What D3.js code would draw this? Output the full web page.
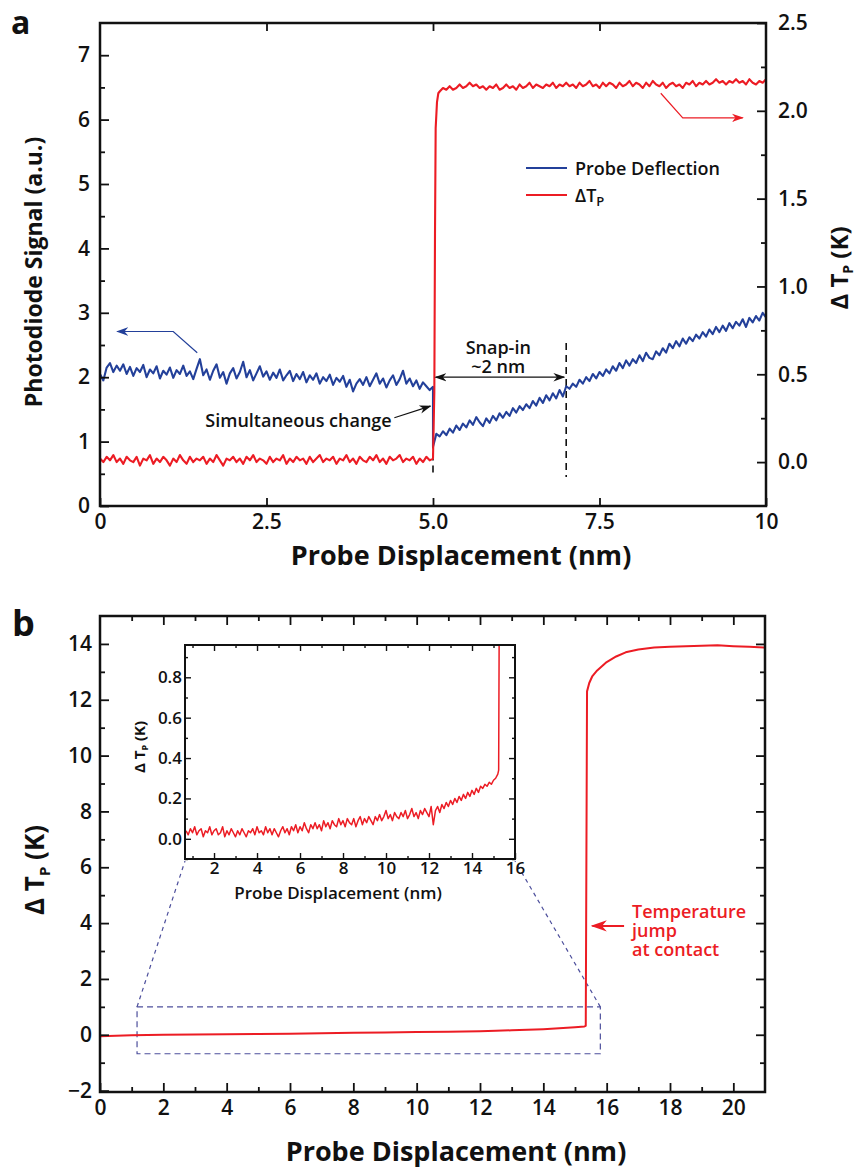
<!DOCTYPE html>
<html>
<head>
<meta charset="utf-8">
<script src="https://cdn.jsdelivr.net/npm/d3@7"></script>
<style>
  body { margin: 0; background: white; }
  svg text { font-family: "Open Sans", sans-serif; font-weight: 600; fill: #111; }
  svg text.title { font-weight: 700; }
</style>
</head>
<body>
<div id="chart"></div>
<script>
// ---------- data ----------
// panel a, sampled every 0.05 nm
const aStep = 0.05;
// probe deflection (a.u.), x = 0 .. 5 nm
const blueBefore = [
  2.05, 1.95, 2.15, 2.22, 2.08, 2.18, 2.10, 2.20, 2.05, 2.16,
  2.02, 2.14, 2.08, 2.19, 2.00, 2.12, 2.06, 2.17, 1.98, 2.10,
  2.04, 2.15, 1.99, 2.11, 2.05, 2.18, 2.02, 2.09, 1.97, 2.13,
  2.28, 2.03, 2.12, 1.96, 2.10, 2.20, 1.99, 2.08, 1.90, 2.06,
  2.14, 1.98, 2.08, 2.24, 2.00, 2.11, 1.95, 2.06, 2.17, 2.01,
  2.09, 1.96, 2.07, 1.99, 2.12, 1.95, 2.03, 2.10, 1.94, 2.05,
  1.97, 2.08, 1.92, 2.03, 1.96, 2.06, 1.90, 2.00, 1.94, 2.04,
  1.88, 1.99, 1.93, 2.02, 1.85, 1.96, 1.78, 1.90, 1.97, 1.88,
  2.00, 1.86, 1.96, 2.06, 1.90, 1.98, 1.84, 1.95, 2.03, 1.88,
  1.97, 2.10, 1.90, 1.98, 1.86, 1.95, 1.82, 1.92, 1.86, 1.80,
  1.85
];
// probe deflection (a.u.), x = 5 .. 10 nm
const blueAfter = [
  0.92, 1.12, 1.08, 1.16, 1.10, 1.20, 1.14, 1.25, 1.18, 1.28,
  1.22, 1.33, 1.26, 1.38, 1.30, 1.24, 1.36, 1.29, 1.40, 1.33,
  1.44, 1.37, 1.46, 1.40, 1.52, 1.45, 1.55, 1.49, 1.58, 1.52,
  1.63, 1.56, 1.68, 1.60, 1.72, 1.64, 1.75, 1.67, 1.80, 1.70,
  1.86, 1.82, 1.90, 1.85, 1.96, 1.90, 2.00, 1.94, 2.05, 1.98,
  2.08, 2.02, 2.12, 2.06, 2.17, 2.10, 2.22, 2.14, 2.26, 2.18,
  2.28, 2.22, 2.34, 2.25, 2.38, 2.30, 2.28, 2.40, 2.34, 2.45,
  2.38, 2.52, 2.45, 2.56, 2.48, 2.60, 2.52, 2.62, 2.56, 2.66,
  2.60, 2.70, 2.63, 2.74, 2.67, 2.78, 2.70, 2.80, 2.72, 2.84,
  2.76, 2.86, 2.80, 2.90, 2.78, 2.92, 2.85, 2.95, 2.88, 3.00,
  2.93
];
// delta T_P (K), x = 0 .. 5 nm
const redBefore = [
  0.02, 0.00, 0.03, 0.01, 0.04, 0.00, 0.02, -0.01, 0.03, 0.01,
  0.00, 0.03, -0.02, 0.02, 0.01, 0.04, -0.01, 0.02, 0.00, 0.03,
  0.01, -0.02, 0.02, 0.00, 0.04, 0.01, -0.01, 0.03, 0.00, 0.02,
  0.01, 0.03, -0.01, 0.02, 0.00, 0.04, 0.01, -0.02, 0.02, 0.01,
  0.03, 0.00, 0.02, -0.01, 0.03, 0.01, 0.04, 0.00, 0.02, 0.01,
  -0.01, 0.03, 0.00, 0.02, 0.01, 0.04, -0.01, 0.02, 0.00, 0.03,
  0.01, 0.02, -0.01, 0.03, 0.00, 0.02, 0.04, 0.00, 0.02, 0.01,
  0.03, -0.01, 0.02, 0.01, 0.04, 0.00, 0.02, -0.01, 0.03, 0.01,
  0.00, 0.03, 0.01, 0.04, 0.00, 0.02, -0.01, 0.03, 0.01, 0.02,
  0.04, 0.00, 0.02, 0.01, 0.03, -0.01, 0.02, 0.00, 0.03, 0.01,
  0.02
];
const redJumpX = [5.02, 5.03, 5.04, 5.06, 5.08];
const redJumpY = [0.40, 1.30, 1.90, 2.05, 2.10];
// delta T_P (K), x = 5.10 .. 10 nm
const redAfterStart = 5.10;
const redAfter = [
  2.11, 2.13, 2.12, 2.14, 2.12, 2.13, 2.15, 2.13, 2.14, 2.16,
  2.14, 2.15, 2.13, 2.14, 2.12, 2.14, 2.13, 2.15, 2.12, 2.13,
  2.15, 2.13, 2.14, 2.12, 2.15, 2.13, 2.14, 2.16, 2.13, 2.15,
  2.14, 2.13, 2.15, 2.14, 2.16, 2.13, 2.15, 2.14, 2.16, 2.14,
  2.15, 2.13, 2.16, 2.14, 2.15, 2.17, 2.14, 2.15, 2.13, 2.16,
  2.14, 2.16, 2.15, 2.13, 2.16, 2.14, 2.15, 2.17, 2.14, 2.16,
  2.15, 2.13, 2.16, 2.14, 2.17, 2.15, 2.14, 2.16, 2.13, 2.15,
  2.16, 2.14, 2.15, 2.13, 2.16, 2.15, 2.17, 2.14, 2.16, 2.15,
  2.17, 2.15, 2.16, 2.18, 2.16, 2.17, 2.15, 2.17, 2.16, 2.18,
  2.16, 2.17, 2.15, 2.18, 2.16, 2.15, 2.17, 2.16, 2.18
];

// panel b, main trace
const bX = [0, 1, 2, 3, 4, 5, 6, 7, 8, 9, 10, 11, 12, 12.5, 13, 13.5, 14, 14.5, 15, 15.3,
            15.34, 15.38, 15.45, 15.55, 15.7, 15.85, 16.0, 16.3, 16.6, 17.0, 17.5, 18, 18.5, 19, 19.5, 20, 20.5, 21];
const bY = [-0.05, -0.02, 0.0, 0.01, 0.02, 0.03, 0.04, 0.05, 0.07, 0.08, 0.10, 0.11, 0.13, 0.14, 0.16, 0.18, 0.20, 0.23, 0.27, 0.30,
            0.32, 12.3, 12.6, 12.85, 13.05, 13.2, 13.35, 13.55, 13.7, 13.8, 13.87, 13.9, 13.92, 13.93, 13.95, 13.92, 13.9, 13.87];

// panel b inset, sampled every 0.1 nm from 0.7 nm
const insetStart = 0.7, insetStep = 0.1;
const insetVals = [
  0.04, 0.02, 0.05, 0.03, 0.06, 0.02, 0.04, 0.05, 0.01, 0.04,
  0.03, 0.06, 0.02, 0.04, 0.05, 0.02, 0.03, 0.06, 0.01, 0.04,
  0.02, 0.05, 0.03, 0.01, 0.04, 0.02, 0.05, 0.03, 0.01, 0.04,
  0.03, 0.05, 0.02, 0.06, 0.03, 0.04, 0.02, 0.06, 0.03, 0.05,
  0.02, 0.05, 0.03, 0.01, 0.04, 0.06, 0.03, 0.05, 0.02, 0.06,
  0.04, 0.07, 0.03, 0.06, 0.04, 0.08, 0.05, 0.03, 0.07, 0.05,
  0.08, 0.05, 0.07, 0.04, 0.09, 0.06, 0.08, 0.05, 0.09, 0.07,
  0.06, 0.10, 0.07, 0.09, 0.06, 0.10, 0.08, 0.07, 0.10, 0.06,
  0.09, 0.11, 0.07, 0.10, 0.08, 0.11, 0.09, 0.07, 0.11, 0.09,
  0.12, 0.09, 0.11, 0.14, 0.10, 0.12, 0.09, 0.13, 0.11, 0.10,
  0.13, 0.11, 0.14, 0.10, 0.12, 0.15, 0.11, 0.13, 0.10, 0.14,
  0.12, 0.15, 0.13, 0.11, 0.16, 0.07, 0.14, 0.16, 0.13, 0.17,
  0.15, 0.18, 0.16, 0.19, 0.17, 0.20, 0.18, 0.21, 0.19, 0.22,
  0.20, 0.23, 0.21, 0.24, 0.22, 0.25, 0.23, 0.26, 0.25, 0.27,
  0.26, 0.28, 0.27, 0.29, 0.30, 0.32
];
const insetJumpX = [15.24, 15.27];
const insetJumpY = [0.34, 1.2];

// ticks
const aXTicks = [0, 2.5, 5, 7.5, 10];
const aXLabels = ["0", "2.5", "5.0", "7.5", "10"];
const aLeftTicks = [0, 1, 2, 3, 4, 5, 6, 7];
const aLeftMinor = [0.5, 1.5, 2.5, 3.5, 4.5, 5.5, 6.5];
const aRightTicks = [0, 0.5, 1.0, 1.5, 2.0, 2.5];
const aRightMinor = [0.25, 0.75, 1.25, 1.75, 2.25];
const bXTicks = [0, 2, 4, 6, 8, 10, 12, 14, 16, 18, 20];
const bXMinor = [1, 3, 5, 7, 9, 11, 13, 15, 17, 19];
const bYTicks = [-2, 0, 2, 4, 6, 8, 10, 12, 14];
const bYMinor = [-1, 1, 3, 5, 7, 9, 11, 13];
const inXTicks = [2, 4, 6, 8, 10, 12, 14, 16];
const inXMinor = [1, 3, 5, 7, 9, 11, 13, 15];
const inYTicks = [0, 0.2, 0.4, 0.6, 0.8];
const inYMinor = [-0.1, 0.1, 0.3, 0.5, 0.7, 0.9];

const BLUE = "#23409a", RED = "#ec1c24", INK = "#111";

const width = 864, height = 1168;
const svg = d3.select("#chart").append("svg")
  .attr("width", width).attr("height", height)
  .style("background", "white");

const defs = svg.append("defs");
function marker(id, color, size) {
  defs.append("marker").attr("id", id)
    .attr("viewBox", "0 0 10 10").attr("refX", 9).attr("refY", 5)
    .attr("markerWidth", size).attr("markerHeight", size)
    .attr("markerUnits", "userSpaceOnUse")
    .attr("orient", "auto-start-reverse")
    .append("path").attr("d", "M0,1.5 L10,5 L0,8.5 L3,5 Z").attr("fill", color);
}
marker("arBlue", BLUE, 12);
marker("arRed", RED, 12);
marker("arBlack", INK, 12);
marker("arRedBig", RED, 16);

// draws one side of ticks (inward); labels optional
function ticks(gen, scale, vals, len, fmt, pad, fs, transform) {
  const g = svg.append("g").attr("transform", transform)
    .call(gen(scale).tickValues(vals).tickSize(-len).tickPadding(pad)
      .tickFormat(fmt || (() => "")));
  g.select(".domain").remove();
  g.selectAll("line").attr("stroke", INK).attr("stroke-width", 1.8);
  g.selectAll("text").style("font-size", fs + "px").attr("fill", INK);
  return g;
}

function dT(g, x, y, size, rotate, pSize) {
  const t = g.append("text").attr("class", "title")
    .attr("transform", `translate(${x},${y})` + (rotate ? " rotate(-90)" : ""))
    .attr("text-anchor", "middle")
    .style("font-size", size + "px");
  t.append("tspan").text("\u0394 T");
  t.append("tspan").attr("dy", size * 0.22).style("font-size", pSize + "px").text("P");
  t.append("tspan").attr("dy", -size * 0.22).text(" (K)");
  return t;
}

// ================= panel a =================
const xA = d3.scaleLinear().domain([0, 10]).range([100, 766]);
const yL = d3.scaleLinear().domain([0, 7.5]).range([506, 23]);
const yR = d3.scaleLinear().domain([-0.25, 2.5]).range([506, 23]);

// dashed markers for the snap-in region
svg.append("line")
  .attr("x1", xA(5)).attr("x2", xA(5))
  .attr("y1", yL(1.0)).attr("y2", yL(0.45))
  .attr("stroke", INK).attr("stroke-width", 1.6).attr("stroke-dasharray", "7,5");
svg.append("line")
  .attr("x1", xA(7)).attr("x2", xA(7))
  .attr("y1", yL(2.53)).attr("y2", yL(0.45))
  .attr("stroke", INK).attr("stroke-width", 1.6).attr("stroke-dasharray", "7,5");

const lineL = d3.line().x(d => xA(d[0])).y(d => yL(d[1]));
const lineR = d3.line().x(d => xA(d[0])).y(d => yR(d[1]));

const bluePts = blueBefore.map((v, i) => [i * aStep, v])
  .concat(blueAfter.map((v, i) => [5 + i * aStep, v]));
svg.append("path").datum(bluePts)
  .attr("d", lineL).attr("fill", "none")
  .attr("stroke", BLUE).attr("stroke-width", 2.1).attr("stroke-linejoin", "round");

const redPts = redBefore.map((v, i) => [i * aStep, v])
  .concat(redJumpX.map((x, i) => [x, redJumpY[i]]))
  .concat(redAfter.map((v, i) => [redAfterStart + i * aStep, v]));
svg.append("path").datum(redPts)
  .attr("d", lineR).attr("fill", "none")
  .attr("stroke", RED).attr("stroke-width", 2.1).attr("stroke-linejoin", "round");

// frame + ticks
svg.append("rect").attr("x", 100).attr("y", 23).attr("width", 666).attr("height", 483)
  .attr("fill", "none").attr("stroke", INK).attr("stroke-width", 2.5);
ticks(d3.axisBottom, xA, aXTicks, 8, (d, i) => aXLabels[i], 8, 21, "translate(0,506)");
ticks(d3.axisTop, xA, aXTicks.slice(1, 4), 8, null, 0, 0, "translate(0,23)");
ticks(d3.axisLeft, yL, aLeftTicks, 9, d3.format("d"), 10, 21, "translate(100,0)");
ticks(d3.axisLeft, yL, aLeftMinor, 5, null, 0, 0, "translate(100,0)");
ticks(d3.axisRight, yR, aRightTicks, 9, d3.format(".1f"), 12, 21, "translate(766,0)");
ticks(d3.axisRight, yR, aRightMinor, 5, null, 0, 0, "translate(766,0)");

// axis titles
svg.append("text").attr("class", "title").attr("transform", "translate(42,272) rotate(-90)")
  .attr("text-anchor", "middle").style("font-size", "23px")
  .text("Photodiode Signal (a.u.)");
dT(svg, 848, 268, 24, true, 14);
svg.append("text").attr("class", "title").attr("x", 461).attr("y", 565)
  .attr("text-anchor", "middle").style("font-size", "27px")
  .text("Probe Displacement (nm)");
svg.append("text").attr("class", "title").attr("x", 11).attr("y", 34)
  .style("font-size", "32px").text("a");

// legend
const leg = svg.append("g");
leg.append("line").attr("x1", 526).attr("x2", 567).attr("y1", 168).attr("y2", 168)
  .attr("stroke", BLUE).attr("stroke-width", 1.8);
leg.append("text").attr("x", 575).attr("y", 175).style("font-size", "18px").text("Probe Deflection");
leg.append("line").attr("x1", 526).attr("x2", 567).attr("y1", 195).attr("y2", 195)
  .attr("stroke", RED).attr("stroke-width", 1.8);
const lt = leg.append("text").attr("x", 575).attr("y", 202).style("font-size", "18px");
lt.append("tspan").text("\u0394T");
lt.append("tspan").attr("dy", 4).style("font-size", "13px").text("P");

// axis pointer arrows
svg.append("polyline")
  .attr("points", [[1.46, 2.38], [1.10, 2.71], [0.26, 2.71]].map(d => [xA(d[0]), yL(d[1])].join(",")).join(" "))
  .attr("fill", "none").attr("stroke", BLUE).attr("stroke-width", 1.2)
  .attr("marker-end", "url(#arBlue)");
svg.append("polyline")
  .attr("points", [[8.42, 2.10], [8.75, 1.96], [9.65, 1.96]].map(d => [xA(d[0]), yR(d[1])].join(",")).join(" "))
  .attr("fill", "none").attr("stroke", RED).attr("stroke-width", 1.2)
  .attr("marker-end", "url(#arRed)");

// snap-in annotation
svg.append("line")
  .attr("x1", xA(5.04)).attr("x2", xA(6.97)).attr("y1", yL(2.0)).attr("y2", yL(2.0))
  .attr("stroke", INK).attr("stroke-width", 1.3)
  .attr("marker-start", "url(#arBlack)").attr("marker-end", "url(#arBlack)");
const snap = svg.append("text").attr("text-anchor", "middle").style("font-size", "18px");
snap.append("tspan").attr("x", xA(5.98)).attr("y", 354).text("Snap-in");
snap.append("tspan").attr("x", xA(5.98)).attr("dy", 19).text("~2 nm");

// simultaneous change
svg.append("text").attr("x", xA(4.38)).attr("y", 427)
  .attr("text-anchor", "end").style("font-size", "18px").text("Simultaneous change");
svg.append("line")
  .attr("x1", xA(4.42)).attr("y1", yL(1.37)).attr("x2", xA(4.96)).attr("y2", yL(1.55))
  .attr("stroke", INK).attr("stroke-width", 1.2).attr("marker-end", "url(#arBlack)");

// ================= panel b =================
const xB = d3.scaleLinear().domain([0, 21]).range([100, 765]);
const yB = d3.scaleLinear().domain([-2.05, 15]).range([1092, 616]);

const zoomX0 = 1.17, zoomX1 = 15.8, zoomY0 = -0.68, zoomY1 = 1.0;
const insetBox = { left: 185, right: 515, top: 645, bottom: 859 };

// dashed zoom region and connectors
const dashStyle = g => g.attr("fill", "none").attr("stroke", "#4d4f9c")
  .attr("stroke-width", 1.2).attr("stroke-dasharray", "6,4");
svg.append("rect")
  .attr("x", xB(zoomX0)).attr("y", yB(zoomY1))
  .attr("width", xB(zoomX1) - xB(zoomX0)).attr("height", yB(zoomY0) - yB(zoomY1))
  .call(dashStyle);
svg.append("line").attr("x1", xB(zoomX0)).attr("y1", yB(zoomY1))
  .attr("x2", insetBox.left).attr("y2", insetBox.bottom + 2).call(dashStyle).attr("stroke-dasharray", "4,4");
svg.append("line").attr("x1", xB(zoomX1)).attr("y1", yB(zoomY1))
  .attr("x2", insetBox.right).attr("y2", insetBox.bottom + 2).call(dashStyle).attr("stroke-dasharray", "4,4");

svg.append("path").datum(bX.map((x, i) => [x, bY[i]]))
  .attr("d", d3.line().x(d => xB(d[0])).y(d => yB(d[1])))
  .attr("fill", "none").attr("stroke", RED).attr("stroke-width", 2).attr("stroke-linejoin", "round");

svg.append("rect").attr("x", 100).attr("y", 616).attr("width", 665).attr("height", 476)
  .attr("fill", "none").attr("stroke", INK).attr("stroke-width", 2.5);
ticks(d3.axisBottom, xB, bXTicks, 9, d3.format("d"), 8, 21, "translate(0,1092)");
ticks(d3.axisBottom, xB, bXMinor, 5, null, 0, 0, "translate(0,1092)");
ticks(d3.axisTop, xB, bXTicks.slice(1), 9, null, 0, 0, "translate(0,616)");
ticks(d3.axisTop, xB, bXMinor, 5, null, 0, 0, "translate(0,616)");
ticks(d3.axisLeft, yB, bYTicks, 9, d3.format("d"), 8, 21, "translate(100,0)");
ticks(d3.axisLeft, yB, bYMinor, 5, null, 0, 0, "translate(100,0)");
ticks(d3.axisRight, yB, bYTicks.slice(1), 9, null, 0, 0, "translate(765,0)");
ticks(d3.axisRight, yB, bYMinor, 5, null, 0, 0, "translate(765,0)");

dT(svg, 44, 870, 26, true, 15);
svg.append("text").attr("class", "title").attr("x", 456).attr("y", 1161)
  .attr("text-anchor", "middle").style("font-size", "27px")
  .text("Probe Displacement (nm)");
svg.append("text").attr("class", "title").attr("x", 12).attr("y", 636)
  .style("font-size", "36px").text("b");

// contact annotation
svg.append("line")
  .attr("x1", xB(16.55)).attr("x2", xB(15.55)).attr("y1", yB(3.9)).attr("y2", yB(3.9))
  .attr("stroke", RED).attr("stroke-width", 2).attr("marker-end", "url(#arRedBig)");
const tj = svg.append("text").style("font-size", "18px").style("fill", RED);
["Temperature", "jump", "at contact"].forEach((s, i) => {
  tj.append("tspan").attr("x", 632).attr(i ? "dy" : "y", i ? 19 : 918).text(s);
});

// ---- inset ----
const xI = d3.scaleLinear().domain([0.65, 16]).range([insetBox.left, insetBox.right]);
const yI = d3.scaleLinear().domain([-0.1, 0.96]).range([insetBox.bottom, insetBox.top]);

svg.append("rect").attr("x", insetBox.left).attr("y", insetBox.top)
  .attr("width", insetBox.right - insetBox.left).attr("height", insetBox.bottom - insetBox.top)
  .attr("fill", "white");
defs.append("clipPath").attr("id", "insetClip").append("rect")
  .attr("x", insetBox.left).attr("y", insetBox.top)
  .attr("width", insetBox.right - insetBox.left).attr("height", insetBox.bottom - insetBox.top);

const insetPts = insetVals.map((v, i) => [insetStart + i * insetStep, v])
  .concat(insetJumpX.map((x, i) => [x, insetJumpY[i]]));
svg.append("path").datum(insetPts)
  .attr("clip-path", "url(#insetClip)")
  .attr("d", d3.line().x(d => xI(d[0])).y(d => yI(d[1])))
  .attr("fill", "none").attr("stroke", RED).attr("stroke-width", 1.5).attr("stroke-linejoin", "round");

svg.append("rect").attr("x", insetBox.left).attr("y", insetBox.top)
  .attr("width", insetBox.right - insetBox.left).attr("height", insetBox.bottom - insetBox.top)
  .attr("fill", "none").attr("stroke", INK).attr("stroke-width", 2);
const inSide = (gen, sc, vals, len, fmt, pad, fs, tr) =>
  ticks(gen, sc, vals, len, fmt, pad, fs, tr).selectAll("line").attr("stroke-width", 1.4);
inSide(d3.axisBottom, xI, inXTicks, 6, d3.format("d"), 3, 17, `translate(0,${insetBox.bottom})`);
inSide(d3.axisBottom, xI, inXMinor, 3, null, 0, 0, `translate(0,${insetBox.bottom})`);
inSide(d3.axisTop, xI, inXTicks.slice(0, -1), 6, null, 0, 0, `translate(0,${insetBox.top})`);
inSide(d3.axisTop, xI, inXMinor, 3, null, 0, 0, `translate(0,${insetBox.top})`);
inSide(d3.axisLeft, yI, inYTicks, 6, d3.format(".1f"), 3, 17, `translate(${insetBox.left},0)`);
inSide(d3.axisLeft, yI, inYMinor, 3, null, 0, 0, `translate(${insetBox.left},0)`);
inSide(d3.axisRight, yI, inYTicks, 6, null, 0, 0, `translate(${insetBox.right},0)`);
inSide(d3.axisRight, yI, inYMinor, 3, null, 0, 0, `translate(${insetBox.right},0)`);

dT(svg, 145, 747, 15, true, 9);
svg.append("text").attr("x", 338).attr("y", 899)
  .attr("text-anchor", "middle").style("font-size", "17px")
  .text("Probe Displacement (nm)");
</script>
</body>
</html>
